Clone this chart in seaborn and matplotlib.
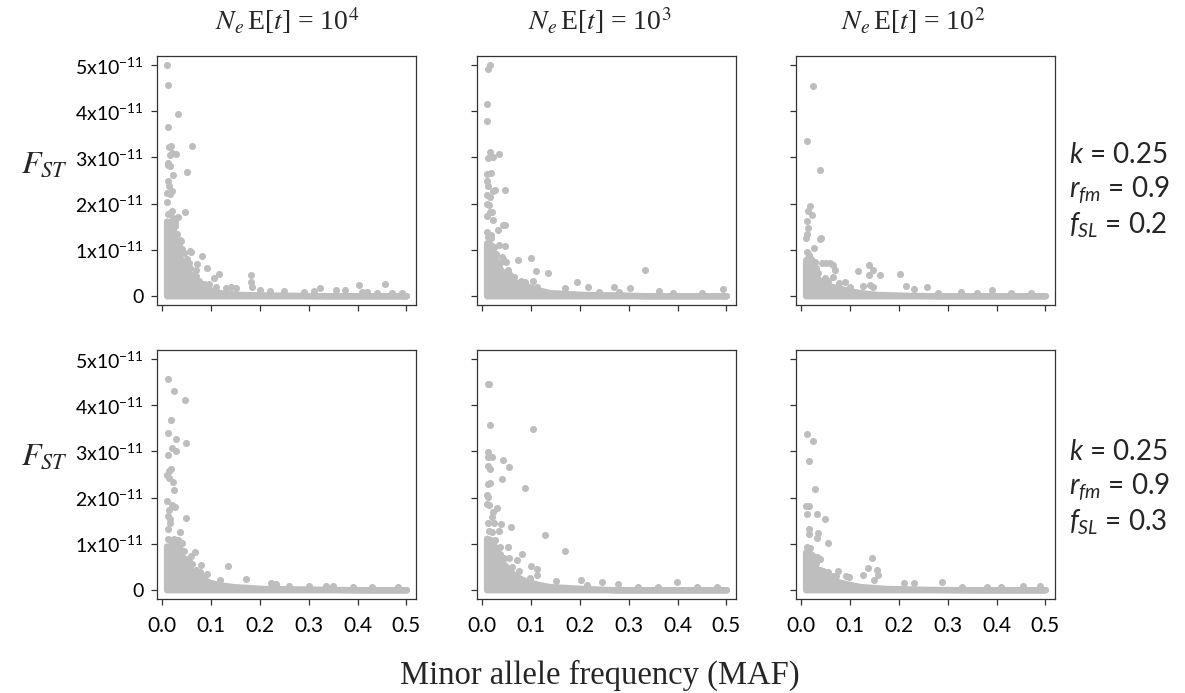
import numpy as np
import matplotlib
matplotlib.use("Agg")
import matplotlib.pyplot as plt
import seaborn as sns
import pandas as pd

# ---------------- data (FST in units of 1e-11) ----------------
SCALE = 1e-11

# Top row, N_e E[t] = 10^4 : isolated points
maf_t1 = [0.0095, 0.011, 0.033, 0.011, 0.014, 0.018, 0.062, 0.016, 0.020, 0.028, 0.011, 0.013, 0.016,
          0.023, 0.051, 0.011, 0.014, 0.010, 0.016, 0.020, 0.0095, 0.020, 0.046, 0.033, 0.027, 0.036,
          0.038, 0.057, 0.059, 0.082, 0.072, 0.057, 0.091, 0.069, 0.117, 0.107, 0.181, 0.181, 0.184,
          0.141, 0.152, 0.323, 0.402, 0.457, 0.355, 0.374, 0.409, 0.20, 0.22, 0.25, 0.29, 0.31, 0.42,
          0.44, 0.47, 0.49, 0.06, 0.075, 0.085, 0.11, 0.13,
          0.012, 0.017, 0.022, 0.026, 0.030, 0.034, 0.040, 0.045, 0.050, 0.055, 0.065, 0.070, 0.095]
fst_t1 = [5.0, 4.57, 3.94, 3.65, 3.23, 3.25, 3.25, 3.05, 3.09, 3.07, 2.87, 2.84, 2.82,
          2.62, 2.69, 2.48, 2.38, 2.22, 2.20, 2.28, 2.04, 1.84, 1.82, 1.71, 1.61, 1.21,
          1.18, 0.98, 0.95, 0.86, 0.69, 0.61, 0.61, 0.56, 0.48, 0.38, 0.45, 0.30, 0.20,
          0.19, 0.17, 0.16, 0.24, 0.25, 0.12, 0.12, 0.08, 0.12, 0.10, 0.10, 0.08, 0.10, 0.08,
          0.07, 0.07, 0.05, 0.45, 0.33, 0.25, 0.20, 0.16,
          1.78, 1.80, 1.68, 1.52, 1.35, 1.10, 1.02, 0.92, 0.80, 0.72, 0.48, 0.42, 0.25]
# Top row dense-cloud upper envelope
env_maf_t1 = [0.009, 0.019, 0.024, 0.029, 0.036, 0.043, 0.053, 0.063, 0.077, 0.098, 0.118, 0.159,
              0.207, 0.275, 0.343, 0.411, 0.5]
env_fst_t1 = [1.62, 1.60, 1.38, 1.10, 0.84, 0.70, 0.48, 0.32, 0.21, 0.13, 0.07, 0.03,
              0.02, 0.01, 0.0, 0.0, 0.0]

# Top row, N_e E[t] = 10^3
maf_t2 = [0.017, 0.012, 0.009, 0.010, 0.016, 0.035, 0.012, 0.023, 0.010, 0.019, 0.009, 0.012, 0.023,
          0.026, 0.046, 0.010, 0.016, 0.010, 0.014, 0.017, 0.021, 0.010, 0.023, 0.042, 0.046, 0.033,
          0.010, 0.018, 0.035, 0.046, 0.040, 0.043, 0.048, 0.074, 0.100, 0.053, 0.110, 0.134, 0.104,
          0.194, 0.113, 0.217, 0.269, 0.302, 0.333, 0.362, 0.493, 0.169, 0.24, 0.28, 0.39, 0.45,
          0.013, 0.019, 0.024, 0.029, 0.036, 0.058, 0.065, 0.080, 0.088]
fst_t2 = [5.0, 4.91, 4.15, 3.79, 3.11, 3.08, 2.98, 3.0, 2.64, 2.67, 2.48, 2.37, 2.28,
          2.30, 2.30, 2.19, 2.15, 2.0, 1.97, 1.81, 1.81, 1.73, 1.65, 1.54, 1.54, 1.42,
          1.38, 1.32, 1.11, 1.08, 0.85, 0.80, 0.74, 0.78, 0.82, 0.56, 0.53, 0.49, 0.33,
          0.29, 0.20, 0.20, 0.20, 0.16, 0.56, 0.11, 0.14, 0.16, 0.09, 0.08, 0.07, 0.06,
          1.28, 1.25, 1.05, 0.90, 0.72, 0.45, 0.40, 0.33, 0.30]
env_maf_t2 = [0.009, 0.019, 0.026, 0.033, 0.043, 0.057, 0.07, 0.091, 0.111, 0.138, 0.207, 0.275,
              0.343, 0.411, 0.5]
env_fst_t2 = [1.15, 1.10, 0.84, 0.64, 0.50, 0.34, 0.29, 0.22, 0.14, 0.07, 0.03, 0.02,
              0.0, 0.0, 0.0]

# Top row, N_e E[t] = 10^2
maf_t3 = [0.024, 0.011, 0.038, 0.019, 0.014, 0.022, 0.011, 0.014, 0.012, 0.0095, 0.038, 0.041, 0.026,
          0.012, 0.017, 0.009, 0.029, 0.043, 0.050, 0.060, 0.065, 0.069, 0.117, 0.138, 0.147, 0.139,
          0.162, 0.202, 0.066, 0.126, 0.141, 0.148, 0.214, 0.232, 0.257, 0.328, 0.390, 0.077, 0.090,
          0.28, 0.36, 0.43, 0.47,
          0.015, 0.021, 0.030, 0.034, 0.048, 0.055, 0.100]
fst_t3 = [4.55, 3.35, 2.73, 1.94, 1.83, 1.76, 1.63, 1.47, 1.34, 1.26, 1.23, 1.26, 1.03,
          0.95, 0.89, 0.78, 0.74, 0.72, 0.72, 0.72, 0.67, 0.56, 0.54, 0.66, 0.55, 0.46,
          0.45, 0.48, 0.41, 0.22, 0.24, 0.19, 0.22, 0.14, 0.20, 0.09, 0.13, 0.27, 0.29,
          0.07, 0.07, 0.07, 0.07,
          0.82, 0.80, 0.60, 0.50, 0.38, 0.33, 0.18]
env_maf_t3 = [0.009, 0.019, 0.026, 0.036, 0.046, 0.06, 0.08, 0.1, 0.121, 0.155, 0.223, 0.291,
              0.393, 0.5]
env_fst_t3 = [0.74, 0.70, 0.48, 0.35, 0.28, 0.21, 0.16, 0.11, 0.07, 0.03, 0.01, 0.0,
              0.0, 0.0]

# Bottom row, N_e E[t] = 10^4
maf_b1 = [0.012, 0.025, 0.046, 0.018, 0.013, 0.029, 0.048, 0.020, 0.029, 0.011, 0.018, 0.014, 0.010,
          0.014, 0.023, 0.024, 0.010, 0.020, 0.027, 0.014, 0.012, 0.048, 0.016, 0.016, 0.013, 0.036,
          0.011, 0.025, 0.033, 0.040, 0.068, 0.059, 0.050, 0.080, 0.134, 0.070, 0.077, 0.092, 0.118,
          0.171, 0.222, 0.234, 0.336, 0.350, 0.483, 0.26, 0.30, 0.39, 0.43,
          0.017, 0.022, 0.031, 0.037, 0.045, 0.055, 0.062, 0.085]
fst_b1 = [4.57, 4.31, 4.11, 3.68, 3.39, 3.27, 3.18, 3.08, 3.02, 2.92, 2.63, 2.58, 2.48,
          2.43, 2.34, 2.16, 1.92, 1.83, 1.79, 1.72, 1.61, 1.56, 1.53, 1.45, 1.32, 1.25,
          1.11, 1.11, 1.07, 1.02, 0.82, 0.73, 0.67, 0.53, 0.51, 0.42, 0.38, 0.35, 0.22,
          0.23, 0.15, 0.13, 0.08, 0.08, 0.06, 0.09, 0.08, 0.07, 0.07,
          1.08, 1.04, 0.95, 0.88, 0.85, 0.62, 0.55, 0.30]
env_maf_b1 = [0.009, 0.019, 0.029, 0.043, 0.053, 0.067, 0.08, 0.098, 0.118, 0.145, 0.207, 0.275,
              0.343, 0.411, 0.5]
env_fst_b1 = [0.95, 0.93, 0.78, 0.70, 0.50, 0.32, 0.25, 0.16, 0.11, 0.07, 0.03, 0.02,
              0.01, 0.0, 0.0]

# Bottom row, N_e E[t] = 10^3
maf_b2 = [0.011, 0.015, 0.017, 0.104, 0.013, 0.020, 0.012, 0.042, 0.012, 0.016, 0.054, 0.040, 0.011,
          0.016, 0.088, 0.010, 0.013, 0.010, 0.014, 0.030, 0.023, 0.021, 0.012, 0.025, 0.038, 0.059,
          0.035, 0.128, 0.037, 0.053, 0.169, 0.037, 0.055, 0.071, 0.081, 0.100, 0.113, 0.113, 0.098,
          0.151, 0.203, 0.246, 0.278, 0.399, 0.215, 0.32, 0.36, 0.44, 0.48,
          0.014, 0.020, 0.027, 0.031, 0.045, 0.062, 0.075]
fst_b2 = [4.47, 4.46, 3.58, 3.49, 2.99, 2.89, 2.88, 2.81, 2.69, 2.62, 2.66, 2.40, 2.30,
          2.31, 2.21, 2.05, 2.01, 1.87, 1.83, 1.78, 1.69, 1.58, 1.45, 1.45, 1.42, 1.36,
          1.27, 1.19, 0.93, 0.92, 0.85, 0.78, 0.69, 0.65, 0.78, 0.51, 0.45, 0.31, 0.26,
          0.20, 0.21, 0.17, 0.12, 0.17, 0.11, 0.06, 0.06, 0.06, 0.05,
          1.28, 1.25, 1.08, 0.90, 0.70, 0.50, 0.40]
env_maf_b2 = [0.009, 0.019, 0.026, 0.033, 0.043, 0.057, 0.07, 0.091, 0.118, 0.138, 0.207, 0.275,
              0.343, 0.411, 0.5]
env_fst_b2 = [1.12, 1.08, 0.92, 0.72, 0.58, 0.40, 0.29, 0.18, 0.11, 0.07, 0.03, 0.0,
              0.0, 0.0, 0.0]

# Bottom row, N_e E[t] = 10^2
maf_b3 = [0.012, 0.024, 0.017, 0.028, 0.009, 0.016, 0.012, 0.032, 0.048, 0.016, 0.016, 0.035, 0.033,
          0.056, 0.033, 0.039, 0.145, 0.039, 0.055, 0.076, 0.136, 0.156, 0.158, 0.072, 0.092, 0.097,
          0.127, 0.149, 0.211, 0.289, 0.232, 0.488, 0.455, 0.33, 0.38, 0.41,
          0.013, 0.019, 0.023, 0.030, 0.044, 0.065]
fst_b3 = [3.37, 3.22, 2.80, 2.19, 1.81, 1.81, 1.64, 1.64, 1.53, 1.32, 1.21, 1.24, 1.13,
          1.01, 0.72, 0.67, 0.68, 0.43, 0.38, 0.41, 0.48, 0.43, 0.33, 0.29, 0.30, 0.27,
          0.31, 0.22, 0.15, 0.16, 0.14, 0.09, 0.08, 0.07, 0.06, 0.06,
          0.92, 0.90, 0.75, 0.58, 0.40, 0.30]
env_maf_b3 = [0.009, 0.019, 0.026, 0.036, 0.053, 0.073, 0.094, 0.121, 0.175, 0.257, 0.359, 0.5]
env_fst_b3 = [0.82, 0.78, 0.54, 0.40, 0.29, 0.18, 0.13, 0.07, 0.03, 0.01, 0.0, 0.0]

col_titles = [r"$N_e\,$E[$t$] = 10$^4$", r"$N_e\,$E[$t$] = 10$^3$", r"$N_e\,$E[$t$] = 10$^2$"]
row_k = ["0.25", "0.25"]
row_rfm = ["0.9", "0.9"]
row_fsl = ["0.2", "0.3"]
x_ticks = [0.0, 0.1, 0.2, 0.3, 0.4, 0.5]
x_ticklabels = ["0.0", "0.1", "0.2", "0.3", "0.4", "0.5"]
y_ticks = [0, 1, 2, 3, 4, 5]
y_ticklabels = ["0", r"1x10$^{\mathregular{-11}}$", r"2x10$^{\mathregular{-11}}$",
                r"3x10$^{\mathregular{-11}}$", r"4x10$^{\mathregular{-11}}$", r"5x10$^{\mathregular{-11}}$"]
x_label = "Minor allele frequency (MAF)"

# ---------------- style ----------------
sns.set_theme(style="white")
plt.rcParams["font.family"] = ["Lato", "DejaVu Sans"]
plt.rcParams["mathtext.fontset"] = "custom"
plt.rcParams["mathtext.rm"] = "Lato"
plt.rcParams["mathtext.it"] = "Lato:italic"
plt.rcParams["mathtext.bf"] = "Lato:bold"
plt.rcParams["mathtext.sf"] = "Lato"
plt.rcParams["axes.unicode_minus"] = True

GREY = "#BEBEBE"
EDGE = "#333333"
W, H = 1185, 693
fig = plt.figure(figsize=(W / 100, H / 100), dpi=100)

panels = [
    [(maf_t1, fst_t1, env_maf_t1, env_fst_t1), (maf_t2, fst_t2, env_maf_t2, env_fst_t2),
     (maf_t3, fst_t3, env_maf_t3, env_fst_t3)],
    [(maf_b1, fst_b1, env_maf_b1, env_fst_b1), (maf_b2, fst_b2, env_maf_b2, env_fst_b2),
     (maf_b3, fst_b3, env_maf_b3, env_fst_b3)],
]
col_left = [157, 477, 796]
row_top = [56, 350]
aw, ah = 259, 249

for r in range(2):
    for c in range(3):
        mx, fy, ex, ey = panels[r][c]
        ax = fig.add_axes([col_left[c] / W, 1 - (row_top[r] + ah) / H, aw / W, ah / H])
        ax.fill_between(np.array(ex), 0, np.array(ey) * SCALE, facecolor=GREY, edgecolor=GREY,
                        linewidth=4.5, joinstyle="round", zorder=2)
        df = pd.DataFrame({"maf": mx, "fst": np.array(fy) * SCALE})
        sns.scatterplot(data=df, x="maf", y="fst", ax=ax, color=GREY, s=26, linewidth=0,
                        legend=False, zorder=3)
        ax.set_xlim(-0.0105, 0.5196)
        ax.set_ylim(-0.2 * SCALE, 5.2 * SCALE)
        ax.set_xticks(x_ticks)
        ax.set_yticks([v * SCALE for v in y_ticks])
        if r == 1:
            ax.set_xticklabels(x_ticklabels)
        else:
            ax.set_xticklabels([])
        if c == 0:
            ax.set_yticklabels(y_ticklabels)
        else:
            ax.set_yticklabels([])
        ax.set_xlabel("")
        ax.set_ylabel("")
        ax.tick_params(axis="both", which="both", direction="out", length=4.5, width=0.9,
                       color=EDGE, labelcolor="black", bottom=True, left=True)
        ax.tick_params(axis="x", pad=8, labelsize=15)
        ax.tick_params(axis="y", pad=5, labelsize=14)
        for sp in ax.spines.values():
            sp.set_visible(True)
            sp.set_color(EDGE)
            sp.set_linewidth(0.9)

# column titles
for cx, t in zip([287, 600, 913], col_titles):
    fig.text(cx / W, 1 - 21 / H, t, ha="center", va="center", fontsize=20,
             family="Liberation Serif", math_fontfamily="stix")

# F_ST row labels
for yy in [165, 457]:
    fig.text(44 / W, 1 - yy / H, r"$F_{ST}$", ha="center", va="center", fontsize=23,
             family="Liberation Serif", math_fontfamily="stix")

# right-side parameter labels
for r, base in enumerate([155, 452]):
    fig.text(1069 / W, 1 - base / H, r"$k$ = " + row_k[r], ha="left", va="center", fontsize=20)
    fig.text(1069 / W, 1 - (base + 35) / H, r"$r_{fm}$ = " + row_rfm[r], ha="left", va="center",
             fontsize=20)
    fig.text(1069 / W, 1 - (base + 70) / H, r"$f_{SL}$ = " + row_fsl[r], ha="left", va="center",
             fontsize=20)

fig.text(600 / W, 1 - 675 / H, x_label, ha="center", va="center", fontsize=23.5,
         family="Liberation Serif")

fig.savefig("out.png", dpi=100, facecolor="white")
